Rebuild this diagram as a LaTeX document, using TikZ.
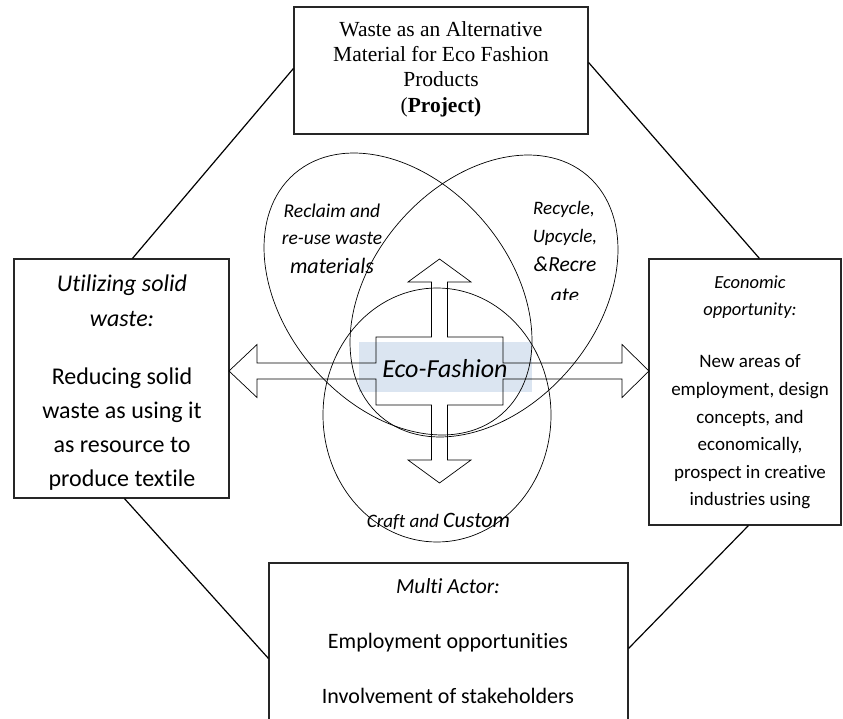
\documentclass[tikz,border=0pt]{standalone}
\usepackage{fontspec}
\setmainfont{Liberation Serif}
\newfontfamily\carl[Ligatures=NoCommon]{Carlito}
\definecolor{ecoblue}{RGB}{219,229,241}
\begin{document}
\begin{tikzpicture}[x=1pt,y=1pt,
  box/.style={draw=black!85, line width=1.1pt, inner sep=0, rectangle},
  edge/.style={line width=1.2pt},
  thinline/.style={line width=0.7pt},
  ser/.style={anchor=base, inner sep=0, font=\fontsize{21.5}{25}\selectfont},
  cb/.style={anchor=base, inner sep=0, font=\carl\fontsize{#1}{#1}\selectfont},
  ci/.style={anchor=base, inner sep=0, font=\carl\itshape\fontsize{#1}{#1}\selectfont}]
\useasboundingbox (0,0) rectangle (843,-719);
\clip (0,0) rectangle (843,-719);

% boxes
\node[box, minimum width=294, minimum height=127] (T) at (441,-70.5) {};
\node[box, minimum width=215, minimum height=239] (L) at (121.5,-378.5) {};
\node[box, minimum width=192, minimum height=266] (R) at (745,-392) {};
\node[box, minimum width=359, minimum height=170] (B) at (448.5,-648) {};

% octagon edges
\draw[edge] ([yshift=-62]T.north west) -- ([xshift=119]L.north west);
\draw[edge] ([xshift=111]L.south west) -- ([yshift=-96]B.north west);
\draw[edge] ([yshift=-86]B.north east) -- ([xshift=100]R.south west);
\draw[edge] ([xshift=111]R.north west) -- ([yshift=-56]T.north east);

% blue highlight
\node[fill=ecoblue, minimum width=173, minimum height=50, inner sep=0] (eco) at (445.5,-367) {};

% ellipses
\draw[thinline, rotate around={-49.4:(398,-294)}] (398,-294) ellipse [x radius=158.7, y radius=112.4];
\draw[thinline, rotate around={49.4:(484,-296)}] (484,-296) ellipse [x radius=158.7, y radius=112.4];
\draw[thinline] (437,-415) ellipse [x radius=114, y radius=127];

% four-way arrow
\draw[thinline, line join=miter]
  (229,-371) -- (257,-344.5) -- (257,-363) -- (376,-363) -- (376,-337) -- (431.5,-337)
  -- (431.5,-282) -- (408,-282) -- (439.5,-259) -- (471,-282) -- (447.5,-282) -- (447.5,-337)
  -- (503,-337) -- (503,-363) -- (622,-363) -- (622,-344.5) -- (649,-371) -- (622,-397.5)
  -- (622,-379) -- (503,-379) -- (503,-405) -- (447.5,-405) -- (447.5,-460) -- (471,-460)
  -- (439.5,-483) -- (408,-460) -- (431.5,-460) -- (431.5,-405) -- (376,-405) -- (376,-379)
  -- (257,-379) -- (257,-397.5) -- cycle;

\node[ci=26] (ecot) at (445,-377) {Eco-Fashion};

% top box text
\node[ser] (t1) at (441,-37) {Waste as an Alternative};
\node[ser] (t2) at (441,-62) {Material for Eco Fashion};
\node[ser] (t3) at (441,-87) {Products};
\node[ser] (t4) at (441,-113) {(\textbf{Project)}};

% left box text
\begin{scope}
\clip (L.south west) rectangle (L.north east);
\node[ci=24] (l1) at (122,-291) {Utilizing solid};
\node[ci=24] (l2) at (122,-326) {waste:};
\node[cb=24] (l3) at (122,-384) {Reducing solid};
\node[cb=24] (l4) at (122,-418) {waste as using it};
\node[cb=24] (l5) at (122,-452) {as resource to};
\node[cb=24] (l6) at (122,-486) {produce textile};
\end{scope}

% right box text
\begin{scope}
\clip (R.south west) rectangle (R.north east);
\node[ci=18.5] (r1) at (750,-288) {Economic};
\node[ci=18.5] (r2) at (750,-316) {opportunity:};
\node[cb=19] (r3) at (750,-367) {New areas of};
\node[cb=19] (r4) at (750,-395) {employment, design};
\node[cb=19] (r5) at (750,-423) {concepts, and};
\node[cb=19] (r6) at (750,-450) {economically,};
\node[cb=19] (r7) at (750,-478) {prospect in creative};
\node[cb=19] (r8) at (750,-505) {industries using};
\end{scope}

% bottom box text
\node[ci=21.5] (b1) at (448,-593) {Multi Actor:};
\node[cb=22] (b2) at (448,-648) {Employment opportunities};
\node[cb=22] (b3) at (448,-703) {Involvement of stakeholders};

% ellipse texts
\node[ci=19.5] (e1) at (332,-218) {Reclaim and};
\node[ci=19.5] (e2) at (332,-245) {re-use waste};
\node[ci=22] (e3) at (332,-274) {materials};
\node[ci=19] (e4) at (564,-215) {Recycle,};
\node[ci=19] (e5) at (565,-243) {Upcycle,};
\node[ci=21.5] (e6) at (565,-272) {\&Recre};
\begin{scope}
\clip (520,-200) rectangle (615,-299);
\node[ci=21.5] (e7) at (565,-302) {ate};
\end{scope}
\node[ci=19] (e8) at (438.5,-527) {Craft and {\fontsize{22}{22}\selectfont Custom}};
\end{tikzpicture}
\end{document}
